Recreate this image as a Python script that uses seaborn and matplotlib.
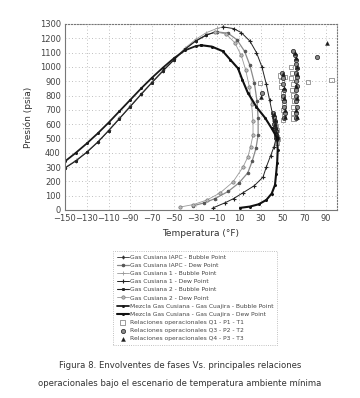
import pandas as pd
import numpy as np
import matplotlib
matplotlib.use('Agg')
import matplotlib.pyplot as plt
import seaborn as sns

#------------------------------------------------
# phase envelopes (T in F, P in psia)
iapc_bub_t=[-150,-140,-130,-120,-110,-100,-90,-80,-70,-60,-50,-40,-30,-20,-10]
iapc_bub_p=[295,345,405,475,555,640,725,810,893,973,1050,1125,1183,1225,1245]
iapc_dew_t=[-10,0,8,15,20,24,26.5,27.5,27.5,25.5,22,18,10,0,-12,-22,-32]
iapc_dew_p=[1245,1235,1190,1110,1010,890,760,640,524,430,340,260,190,130,80,50,30]

c1_bub_t=[-150,-140,-130,-120,-110,-100,-90,-80,-70,-60,-50,-40,-30,-20,-10,-5]
c1_bub_p=[297,347,407,477,557,642,727,812,895,976,1054,1130,1192,1240,1270,1280]
c1_dew_t=[-5,5,12,20,26,31,35,38,41,43,44,42,39,35,32,24,13.5,5,-3,-14]
c1_dew_p=[1280,1268,1240,1180,1100,1000,880,770,660,570,500,440,380,300,230,170,120,80,50,15]

c2_bub_t=[-150,-140,-130,-120,-110,-100,-90,-80,-70,-60,-50,-40,-30,-20,-12]
c2_bub_p=[293,343,403,473,553,638,723,808,891,971,1048,1122,1180,1222,1245]
c2_dew_t=[-12,-2,6,12,16,19.5,21.5,22.8,22.8,20.5,18,13.6,4.4,-7.5,-19.5,-32,-44]
c2_dew_p=[1245,1230,1170,1080,980,860,740,620,524,440,370,300,196,119,70,38,21]

mz_bub_t=[-150,-140,-130,-120,-110,-100,-90,-80,-70,-60,-50,-40,-30,-25]
mz_bub_p=[340,400,465,535,610,690,770,850,925,995,1060,1115,1145,1152]
mz_dew_t=[-25,-15,-5,2,9,13,18,26,34,40,45,45.5,45,44,43,40,35,28,20,11]
mz_dew_p=[1152,1142,1110,1050,990,910,820,720,643,570,503,420,330,250,175,115,70,40,24,15]

# operational points
q1_t=[42,43,44,45,44,45,46,45,48,49,49,50,50,51,50,51,50,58,59,58,60,59,60,61,60,60,60,29,52,73,95]
q1_p=[640,610,590,560,530,510,495,470,940,900,860,820,780,740,700,660,630,1000,960,920,880,840,800,760,720,680,640,885,930,895,910]
q3_t=[41,42,43,42,43,44,44,45,44,49,50,50,51,50,51,51,52,51,60,61,62,62,63,62,63,62,63,62,62,62,63,62,62,31,82]
q3_p=[680,650,620,600,575,550,525,505,500,960,920,880,840,800,760,720,680,640,1110,1080,1050,1020,990,960,930,900,870,840,800,760,720,680,640,820,1070]
q4_t=[42,43,43,44,44,45,45,50,51,51,52,52,61,62,63,63,62,63,62,63,30,91]
q4_p=[670,630,600,570,545,520,500,950,850,780,700,650,1100,1060,1000,950,870,780,700,650,790,1167]

x_ticks=list(range(-150,91,20))
y_ticks=list(range(0,1301,100))

labels=['Gas Cusiana IAPC - Bubble Point','Gas Cusiana IAPC - Dew Point',
        'Gas Cusiana 1 - Bubble Point','Gas Cusiana 1 - Dew Point',
        'Gas Cusiana 2 - Bubble Point','Gas Cusiana 2 - Dew Point',
        'Mezcla Gas Cusiana - Gas Cuajira - Bubble Point',
        'Mezcla Gas Cusiana - Gas Cuajira - Dew Point']

##########################################################
sns.set_style('white')
plt.rcParams['font.family']=['DejaVu Sans']

fig=plt.figure(figsize=(3.6,3.98), dpi=100)
ax=fig.add_axes([65/360, 1-210/398, 272/360, 186/398])

styles=[
    dict(color='#333333', lw=0.6, marker='d', ms=1.6, mec='#333333', mfc='#333333'),
    dict(color='#8a8a8a', lw=0.9, marker='o', ms=1.8, mfc='#555555', mec='#555555'),
    dict(color='#9a9a9a', lw=0.6, marker='+', ms=2.6, mew=0.6, mec='#9a9a9a'),
    dict(color='#222222', lw=0.7, marker='+', ms=2.8, mew=0.8, mec='#222222'),
    dict(color='#222222', lw=0.8, marker='s', ms=1.3, mec='#222222', mfc='#222222'),
    dict(color='#999999', lw=0.6, marker='o', ms=2.4, mfc='#bbbbbb', mec='#777777', mew=0.5),
    dict(color='#1a1a1a', lw=1.3, marker='o', ms=1.4, mec='#1a1a1a', mfc='#1a1a1a'),
    dict(color='#111111', lw=1.5, marker='o', ms=1.4, mec='#111111', mfc='#111111'),
]
data=[(iapc_bub_t,iapc_bub_p),(iapc_dew_t,iapc_dew_p),(c1_bub_t,c1_bub_p),(c1_dew_t,c1_dew_p),
      (c2_bub_t,c2_bub_p),(c2_dew_t,c2_dew_p),(mz_bub_t,mz_bub_p),(mz_dew_t,mz_dew_p)]

for (t, p), st, lab in zip(data, styles, labels):
    df=pd.DataFrame({'T':t, 'P':p})
    sns.lineplot(data=df, x='T', y='P', sort=False, estimator=None, ax=ax, label=lab, **st)

sns.scatterplot(x=q1_t, y=q1_p, ax=ax, marker='s', s=9, facecolors='none', edgecolor='#8c8c8c', linewidth=0.6,
                label='Relaciones operacionales Q1 - P1 - T1')
sns.scatterplot(x=q3_t, y=q3_p, ax=ax, marker='o', s=9, color='#8c8c8c', edgecolor='#333333', linewidth=0.6,
                label='Relaciones operacionales Q3 - P2 - T2')
sns.scatterplot(x=q4_t, y=q4_p, ax=ax, marker='^', s=8, color='#1a1a1a', edgecolor='#1a1a1a', linewidth=0.3,
                label='Relaciones operacionales Q4 - P3 - T3')

#adjust
ax.set_xlim(-150,100)
ax.set_ylim(0,1300)
ax.set_xticks(x_ticks)
ax.set_yticks(y_ticks)
ax.tick_params(labelsize=6, colors='#444444', length=0, pad=3)
ax.grid(True, linestyle=(0,(1,3)), color='#aaaaaa', lw=0.6)
for s in ax.spines.values():
    s.set_color('#777777'); s.set_linewidth(0.8)
ax.spines['top'].set_linestyle(':')
ax.spines['right'].set_linestyle(':')
ax.set_xlabel('Temperatura (°F)', fontsize=6.5, color='#333333', labelpad=4)
ax.set_ylabel('Presión (psia)', fontsize=6.5, color='#333333', labelpad=5)

leg=ax.legend(loc='upper left', bbox_to_anchor=(110/360, 1-248/398), bbox_transform=fig.transFigure,
              fontsize=4.3, frameon=True, fancybox=False, labelspacing=0.5, handlelength=2.0,
              handletextpad=0.2, borderpad=0.6, labelcolor='#444444')
leg.get_frame().set_linestyle(':')
leg.get_frame().set_edgecolor('#999999')
leg.get_frame().set_linewidth(0.6)

fig.text(0.5, 1-365/398, 'Figura 8. Envolventes de fases Vs. principales relaciones', ha='center', va='center',
         fontsize=6.1, color='#333333')
fig.text(0.5, 1-383/398, 'operacionales bajo el escenario de temperatura ambiente mínima', ha='center', va='center',
         fontsize=6.1, color='#333333')

fig.savefig('out.png', dpi=100, facecolor='white')
plt.close()
